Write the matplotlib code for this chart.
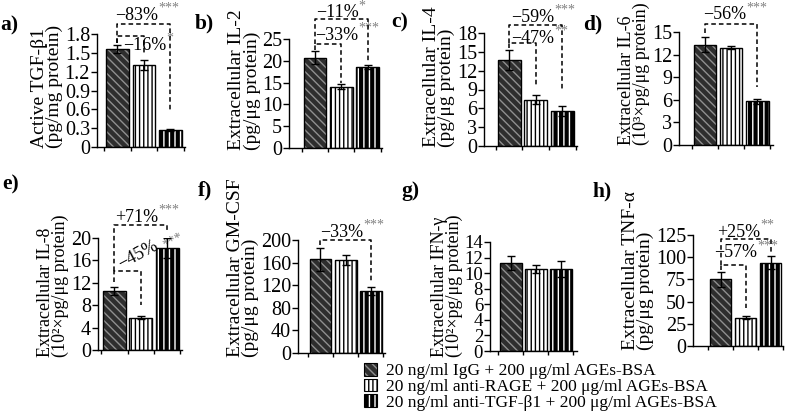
import numpy as np
import matplotlib
matplotlib.use('Agg')
import matplotlib.pyplot as plt
from matplotlib.patches import Patch
from matplotlib.ticker import FuncFormatter

plt.rcParams['font.family'] = ['Liberation Serif', 'DejaVu Serif']
plt.rcParams['hatch.linewidth'] = 1.0

# ---------------- data ----------------
groups = ["20 ng/ml IgG + 200 \u03bcg/ml AGEs-BSA",
          "20 ng/ml anti-RAGE + 200 \u03bcg/ml AGEs-BSA",
          "20 ng/ml anti-TGF-\u03b21 + 200 \u03bcg/ml AGEs-BSA"]

tgfb1_mean = [1.56, 1.30, 0.27]
tgfb1_err = [0.06, 0.08, 0.02]
il2_mean = [20.7, 14.1, 18.6]
il2_err = [1.5, 0.6, 0.5]
il4_mean = [13.7, 7.4, 5.6]
il4_err = [1.6, 0.7, 0.8]
il6_mean = [13.3, 12.9, 5.8]
il6_err = [1.0, 0.2, 0.3]
il8_mean = [10.6, 5.8, 18.2]
il8_err = [0.7, 0.2, 1.8]
gmcsf_mean = [166, 164, 110]
gmcsf_err = [20, 9, 7]
ifng_mean = [11.3, 10.5, 10.5]
ifng_err = [0.9, 0.5, 1.0]
tnfa_mean = [75, 32, 94]
tnfa_err = [8, 1.5, 7]

panel_labels = ['a)', 'b)', 'c)', 'd)', 'e)', 'f)', 'g)', 'h)']
ylabels = ["Active TGF-\u03b21\n(pg/mg protein)",
           "Extracellular IL-2\n(pg/\u03bcg protein)",
           "Extracellular IL-4\n(pg/\u03bcg protein)",
           "Extracellular IL-6\n(10\u00b3\u00d7pg/\u03bcg protein)",
           "Extracellular IL-8\n(10\u00b2\u00d7pg/\u03bcg protein)",
           "Extracellular GM-CSF\n(pg/\u03bcg protein)",
           "Extracellular IFN-\u03b3\n(10\u00b2\u00d7pg/\u03bcg protein)",
           "Extracellular TNF-\u03b1\n(pg/\u03bcg protein)"]

# significance brackets: (i, j, level, end_i, end_j, text, stars, text_x, text_y, rotation)
brackets = [
    [(0, 2, 1.96, 1.65, 0.56, "\u221283%", "***", 0.74, 2.10, 0),
     (0, 1, 1.77, 1.65, 1.50, "\u221216%", "*", 1.02, 1.62, 0)],
    [(0, 2, 29.6, 23.9, 19.5, "\u221211%", "*", 0.84, 31.0, 0),
     (0, 1, 23.9, 22.5, 15.0, "\u221233%", "***", 0.84, 25.9, 0)],
    [(0, 2, 19.3, 16.4, 8.9, "\u221259%", "***", 0.9, 20.5, 0),
     (0, 1, 16.4, 15.6, 9.5, "\u221247%", "**", 0.9, 17.2, 0)],
    [(0, 2, 16.1, 14.9, 7.7, "\u221256%", "***", 0.75, 17.3, 0)],
    [(0, 2, 22.3, 14.1, 21.1, "+71%", "***", 0.85, 23.75, 0),
     (0, 1, 14.1, 12.1, 8.0, "\u221245%", "***", 0.9, 17.0, 28)],
    [(0, 2, 200, 191, 124, "\u221233%", "***", 0.85, 214, 0)],
    [],
    [(0, 2, 120.5, 91, 106, "+25%", "**", 0.74, 128, 0),
     (0, 1, 91, 85.6, 42.8, "\u221257%", "***", 0.62, 105, 0)],
]

means = [tgfb1_mean, il2_mean, il4_mean, il6_mean, il8_mean, gmcsf_mean, ifng_mean, tnfa_mean]
errs = [tgfb1_err, il2_err, il4_err, il6_err, il8_err, gmcsf_err, ifng_err, tnfa_err]
ymaxs = [1.8, 25, 18, 15, 20, 200, 14, 125]
ysteps = [0.3, 5, 3, 3, 4, 40, 2, 25]

# layout in pixels: left, right, top(ymax), bottom(0)
W, H = 786, 412
rects = [(97, 185, 34, 147), (289, 382, 39, 148), (484, 577, 33, 146), (679, 773, 32, 145),
         (98, 182, 238, 350), (298, 385, 240, 353), (490, 577, 242, 351), (693, 783, 235, 346)]
xlims = [(-0.77, 2.55), (-0.99, 2.55), (-0.94, 2.55), (-1.0, 2.6),
         (-0.62, 2.56), (-0.89, 2.56), (-0.84, 2.65), (-1.1, 2.5)]
label_pos = [(9, 25), (204, 23), (400, 22), (593, 24), (11, 184), (205, 190), (410, 191), (602, 191)]
ylabel_drop = [1, 2, 1, 0, 7, 4, 6, 4]       # px the y-label extends below the axis
ylabel_fs = [14, 14, 14, 13, 13, 14, 13, 14]
tick_fs = [14.5, 14.5, 14.5, 14.5, 14.5, 14.5, 13.5, 14.5]

styles = [dict(face='#2e2e2e', hatchc='#8f8f8f', hatch='\\\\\\\\'),
          dict(face='white', hatchc='black', hatch='||||'),
          dict(face='black', hatchc='white', hatch='|||')]

fig = plt.figure(figsize=(W / 100, H / 100), dpi=100)
bw = 0.86

for k in range(8):
    L, R, T, B = rects[k]
    ax = fig.add_axes([L / W, (H - B) / H, (R - L) / W, (B - T) / H])
    x = np.arange(3)
    for i in range(3):
        st = styles[i]
        ax.bar(x[i], means[k][i], width=bw, color=st['face'], edgecolor=st['hatchc'],
               hatch=st['hatch'], linewidth=0, zorder=2)
        ax.bar(x[i], means[k][i], width=bw, fill=False, edgecolor='black', linewidth=1.0, zorder=3)
    ax.errorbar(x, means[k], yerr=errs[k], fmt='none', ecolor='black', elinewidth=1.0,
                capsize=3, capthick=1.0, zorder=4)
    ax.set_ylim(0, ymaxs[k])
    ax.set_xlim(*xlims[k])
    ax.set_yticks(np.arange(0, ymaxs[k] + ysteps[k] / 2, ysteps[k]))
    ax.yaxis.set_major_formatter(FuncFormatter(lambda v, p: f'{v:g}'))
    ax.set_xticks([-0.5, 0.5, 1.5, 2.5])
    ax.set_xticklabels([])
    ax.tick_params(axis='y', direction='out', length=4, width=1, labelsize=tick_fs[k], pad=1)
    ax.tick_params(axis='x', direction='out', length=3, width=1)
    for s in ['top', 'right']:
        ax.spines[s].set_visible(False)
    for s in ['left', 'bottom']:
        ax.spines[s].set_linewidth(1.0)
    ax.set_ylabel(ylabels[k], fontsize=ylabel_fs[k], labelpad=1, linespacing=0.85)
    ax.yaxis.label.set_horizontalalignment('left')
    ax.yaxis.label.set_y(-ylabel_drop[k] / (B - T))
    ax.patch.set_alpha(0)

    for (i, j, lev, ei, ej, txt, stars, tx, ty, rot) in brackets[k]:
        ax.plot([i, i, j, j], [ei, lev, lev, ej], ls=(0, (3, 2)), color='black', lw=1.1,
                clip_on=False, zorder=5)
        t = ax.text(tx, ty, txt, ha='center', va='center', fontsize=13, rotation=rot,
                    clip_on=False, zorder=6)
        ax.annotate(stars, xy=(1.0, 0.9), xycoords=t, ha='left', va='center',
                    fontsize=10, color='#808080', rotation=rot, annotation_clip=False)

    px, py = label_pos[k]
    fig.text(px / W, 1 - py / H, panel_labels[k], fontsize=15.5, fontweight='bold',
             ha='center', va='center')

handles = []
for st in styles:
    handles.append((Patch(facecolor=st['face'], edgecolor=st['hatchc'], hatch=st['hatch'], linewidth=0),
                    Patch(fill=False, edgecolor='black', linewidth=0.8)))
fig.legend(handles, groups, loc='upper left', bbox_to_anchor=(364 / W, 1 - 363 / H),
           frameon=False, fontsize=12.5, handlelength=0.75, handleheight=0.75,
           handletextpad=0.5, labelspacing=-0.05, borderpad=0, borderaxespad=0)

fig.savefig('out.png', dpi=100)
